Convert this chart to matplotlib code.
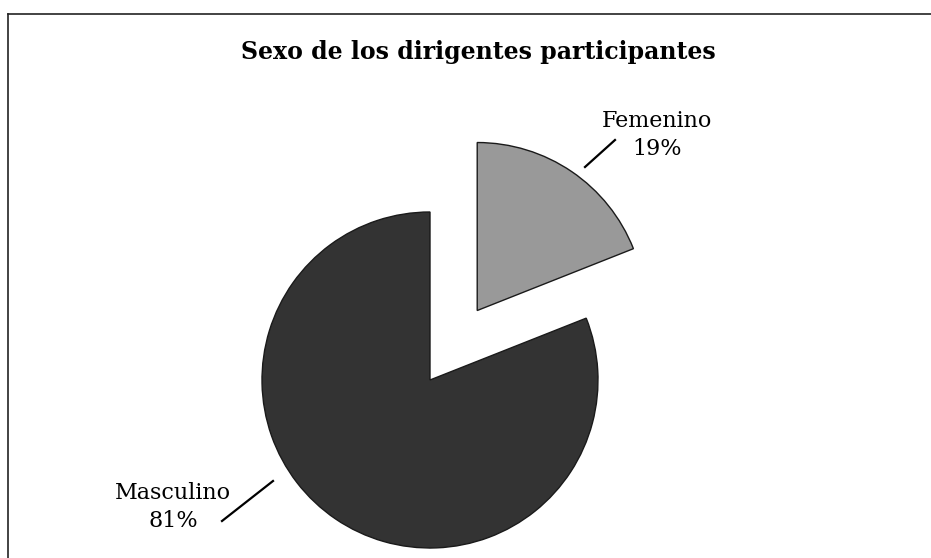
"""
Pie chart: sexo de los dirigentes participantes.
"""
import matplotlib
matplotlib.use('Agg')
import matplotlib.pyplot as plt
from matplotlib.lines import Line2D

# Data
labels = ['Femenino', 'Masculino']
values = [19, 81]
colors = ['#999999', '#333333']

TITLE = 'Sexo de los dirigentes participantes'
W, H = 931, 558

plt.rcParams['font.family'] = ['DejaVu Serif']

fig = plt.figure(figsize=(W / 100, H / 100), dpi=100)
ax = fig.add_axes([0, 0, 1, 1])
ax.set_xlim(0, W)
ax.set_ylim(0, H)
ax.set_aspect('equal')
ax.axis('off')

# pixel-ish coordinates: y measured from the bottom
center = (430, H - 380)
radius = 168
# explode is in data units here (radius is not 1)
explode = [0.5 * radius, 0.0]

wedges, _ = ax.pie(
    values, colors=colors, explode=explode, startangle=90,
    counterclock=False, center=center, radius=radius,
    wedgeprops=dict(edgecolor='#1a1a1a', linewidth=1.0),
)
ax.set_xlim(0, W)
ax.set_ylim(0, H)

# Labels with leader lines
ax.text(657, H - 135, f'{labels[0]}\n{values[0]}%', ha='center', va='center',
        fontsize=16, linespacing=1.3)
ax.plot([585, 615], [H - 167, H - 140], color='black', linewidth=1.6)

ax.text(173, H - 507, f'{labels[1]}\n{values[1]}%', ha='center', va='center',
        fontsize=16, linespacing=1.3)
ax.plot([222, 273], [H - 521, H - 481], color='black', linewidth=1.6)

ax.text(478, H - 52, TITLE, ha='center', va='center', fontsize=17,
        fontweight='bold')

# Frame (cut off at right and bottom in the original)
fig.add_artist(Line2D([8 / W, 1], [1 - 14 / H, 1 - 14 / H], color='#222222',
                      linewidth=1.2, transform=fig.transFigure))
fig.add_artist(Line2D([8 / W, 8 / W], [0, 1 - 14 / H], color='#222222',
                      linewidth=1.2, transform=fig.transFigure))

fig.savefig('out.png', dpi=100, facecolor='white')
